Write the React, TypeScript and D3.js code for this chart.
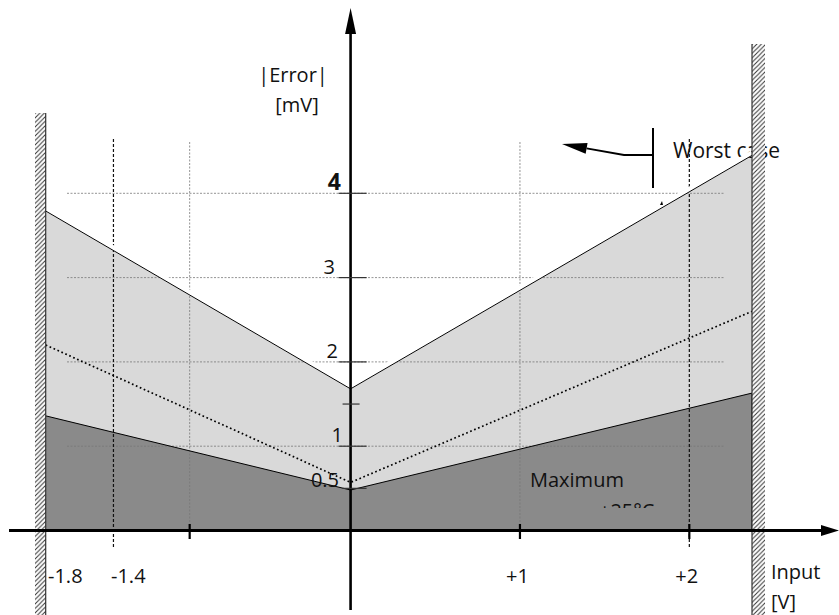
import React from "react";
import * as d3 from "d3";

// ---- data ----
const inputKnots = [-1.8, 0, 2.37];
const worstCase = [3.79, 1.68, 4.45];
const typicalDotted = [2.2, 0.57, 2.6];
const maximum25 = [1.36, 0.48, 1.63];

const yTickValues = [0.5, 1, 1.5, 2, 3, 4];
const yTickLabels = ["0.5", "1", "", "2", "3", "4"];
const yGridValues = [1, 2, 3, 4];
const xTickValues = [-0.95, 1, 2];
const xLabelValues = [-1.8, -1.4, 1, 2];
const xLabelTexts = ["-1.8", "-1.4", "+1", "+2"];
const xDottedGrid = [-0.95, 1];
const xDashedGrid = [-1.4, 2];

const W = 839;
const H = 615;
const FONT = "'Open Sans', Lato, sans-serif";
const FS = 20;

export default function App() {
  const x = d3.scaleLinear().domain([-1.8, 2.37]).range([45.7, 752]);
  const y = d3.scaleLinear().domain([0, 1]).range([530.5, 446.2]);
  const x0 = x(0);
  const y0 = y(0);

  const pts = (vals: number[]) => inputKnots.map((k, i) => [x(k), y(vals[i])] as [number, number]);
  const area = d3
    .area<[number, number]>()
    .x((d) => d[0])
    .y0(y0)
    .y1((d) => d[1]);
  const line = d3.line<[number, number]>();

  const worstPts = pts(worstCase);
  const maxPts = pts(maximum25);
  const typPts = pts(typicalDotted);

  // arrow for worst case annotation
  const annX = 653;
  const tip: [number, number] = [562, 144];
  const knee: [number, number] = [624, 155];
  const dx = knee[0] - tip[0];
  const dy = knee[1] - tip[1];
  const len = Math.hypot(dx, dy);
  const ux = dx / len;
  const uy = dy / len;
  const hl = 25;
  const hw = 5.5;
  const bx = tip[0] + ux * hl;
  const by = tip[1] + uy * hl;
  const head = `M${tip[0]},${tip[1]} L${bx - uy * hw},${by + ux * hw} L${bx + uy * hw},${by - ux * hw} Z`;

  const yLabelEnd = (v: number) =>
    v === 4 ? 341 : v === 3 ? 335 : v === 2 ? 338 : v === 1 ? 343 : 339;

  return (
    <svg
      width={W}
      height={H}
      style={{ position: "absolute", left: 0, top: 0, background: "#fff" }}
      fontFamily={FONT}
    >
      <defs>
        <pattern id="hatch" patternUnits="userSpaceOnUse" width={4.5} height={4.5}>
          <rect width={4.5} height={4.5} fill="#fff" />
          <path d="M-1,1 l2,-2 M0,4.5 l4.5,-4.5 M3.5,5.5 l2,-2" stroke="#333" strokeWidth={1} />
        </pattern>
        <clipPath id="clip25">
          <rect x={560} y={490} width={140} height={18} />
        </clipPath>
      </defs>

      {/* areas */}
      <path d={area(worstPts) || ""} fill="#d9d9d9" />
      <path d={area(maxPts) || ""} fill="#8a8a8a" />

      {/* horizontal dotted grid */}
      {yGridValues.map((v) => (
        <line
          key={"hg" + v}
          x1={67}
          x2={724}
          y1={y(v)}
          y2={y(v)}
          stroke="#777"
          strokeWidth={0.8}
          strokeDasharray="2,1.5"
        />
      ))}
      {/* vertical dotted grid */}
      {xDottedGrid.map((v) => (
        <line
          key={"vg" + v}
          x1={x(v)}
          x2={x(v)}
          y1={142}
          y2={y0}
          stroke="#777"
          strokeWidth={0.8}
          strokeDasharray="2,1.5"
        />
      ))}
      {/* vertical dashed lines */}
      {xDashedGrid.map((v) => (
        <line
          key={"vd" + v}
          x1={x(v)}
          x2={x(v)}
          y1={139}
          y2={547}
          stroke="#111"
          strokeWidth={1.2}
          strokeDasharray="3,2"
        />
      ))}

      {/* annotation text (partly hidden by the line halo) */}
      <text x={673} y={158} fontSize={21} fill="#111">
        Worst case
      </text>

      {/* series lines */}
      <path d={line(worstPts) || ""} fill="none" stroke="#fff" strokeWidth={5} transform="translate(0,-2.5)" />
      <path d={line(worstPts) || ""} fill="none" stroke="#000" strokeWidth={1} />
      <path d={line(maxPts) || ""} fill="none" stroke="#000" strokeWidth={1} />
      <path
        d={line(typPts) || ""}
        fill="none"
        stroke="#000"
        strokeWidth={1.7}
        strokeDasharray="1.7,2.6"
      />
      <line x1={x(2.37)} x2={x(2.37)} y1={y(maximum25[2])} y2={y0} stroke="#000" strokeWidth={1} />
      {/* tiny mark on worst-case line */}
      <path d="M660,205 l2,-4 l1,4 Z" fill="#000" />

      {/* hatched walls */}
      <rect x={35} y={113} width={11} height={H - 113} fill="url(#hatch)" />
      <line x1={45.7} x2={45.7} y1={113} y2={H} stroke="#333" strokeWidth={1.2} />
      <rect x={752} y={44} width={13} height={H - 44} fill="url(#hatch)" />
      <line x1={752} x2={752} y1={44} y2={H} stroke="#333" strokeWidth={1.2} />

      {/* axes */}
      <line x1={9} x2={826} y1={y0} y2={y0} stroke="#000" strokeWidth={3} />
      <path d={`M839,${y0} L821,${y0 - 5.5} L821,${y0 + 5.5} Z`} fill="#000" />
      <line x1={x0} x2={x0} y1={610} y2={30} stroke="#000" strokeWidth={2.6} />
      <path d={`M${x0},8 L${x0 - 5.5},34 L${x0 + 5.5},34 Z`} fill="#000" />

      {/* x ticks */}
      {xTickValues.map((v) => (
        <line key={"xt" + v} x1={x(v)} x2={x(v)} y1={524} y2={539} stroke="#000" strokeWidth={2.2} />
      ))}
      {/* y ticks */}
      {yTickValues.map((v) => (
        <line
          key={"yt" + v}
          x1={v === 1.5 || v === 0.5 ? x0 - 8 : x0 - 12}
          x2={v === 1.5 ? x0 + 9 : x0 + 16}
          y1={y(v)}
          y2={y(v)}
          stroke="#333"
          strokeWidth={1.2}
        />
      ))}
      {yTickValues.map((v, i) =>
        yTickLabels[i] ? (
          <text
            key={"yl" + v}
            x={yLabelEnd(v)}
            y={v === 0.5 ? y(v) - 1 : v === 4 ? y(v) - 3 : y(v) - 4}
            textAnchor="end"
            fontSize={v === 4 ? 23 : FS}
            fontWeight={v === 4 ? "bold" : "normal"}
            fill="#111"
          >
            {yTickLabels[i]}
          </text>
        ) : null
      )}

      {/* x labels */}
      {xLabelValues.map((v, i) => (
        <text
          key={"xl" + v}
          x={v === -1.8 ? 48 : v === -1.4 ? 111 : x(v) - 14}
          y={583}
          fontSize={FS}
          fill="#111"
        >
          {xLabelTexts[i]}
        </text>
      ))}

      {/* axis titles */}
      <text x={293} y={82} textAnchor="middle" fontSize={FS} fill="#111">
        |Error|
      </text>
      <text x={297} y={112} textAnchor="middle" fontSize={FS} fill="#111">
        [mV]
      </text>
      <text x={771} y={579} fontSize={FS} fill="#111">
        Input
      </text>
      <text x={771} y={609} fontSize={FS} fill="#111">
        [V]
      </text>

      {/* annotations */}
      <text x={530} y={487} fontSize={FS} fill="#111">
        Maximum
      </text>
      <g clipPath="url(#clip25)">
        <text x={599} y={518} fontSize={FS} fill="#111">
          +25°C
        </text>
      </g>

      <line x1={annX} x2={annX} y1={128} y2={188} stroke="#000" strokeWidth={2} />
      <path d={`M${annX},${knee[1]} L${knee[0]},${knee[1]} L${bx},${by}`} fill="none" stroke="#000" strokeWidth={2} />
      <path d={head} fill="#000" />
    </svg>
  );
}
